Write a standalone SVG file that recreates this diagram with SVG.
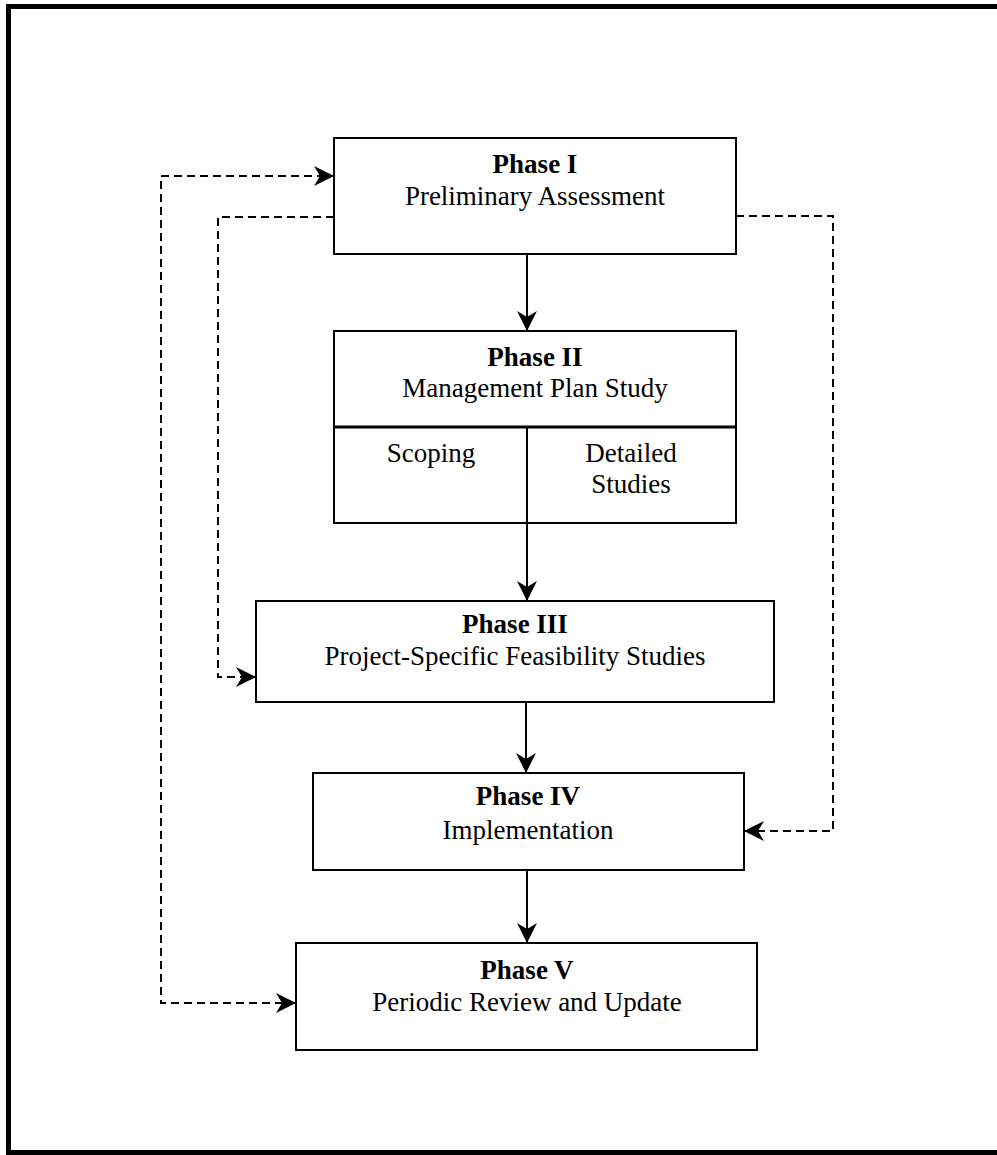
<svg xmlns="http://www.w3.org/2000/svg" width="997" height="1155" viewBox="0 0 997 1155">
  <style>
    .box { fill: #fff; stroke: #000; stroke-width: 2; }
    .t { font-family: "Liberation Serif", "Times New Roman", serif; font-size: 27px; fill: #000; text-anchor: middle; }
    .b { font-weight: bold; }
    .solid { fill: none; stroke: #000; stroke-width: 2; marker-end: url(#arr); }
    .dash { fill: none; stroke: #000; stroke-width: 2; stroke-dasharray: 8 5; }
  </style>
  <defs>
    <marker id="arr" markerUnits="userSpaceOnUse" markerWidth="24" markerHeight="24" viewBox="-22 -12 24 24" refX="0" refY="0" orient="auto-start-reverse">
      <path d="M0,0 L-20,-10 L-14,0 L-20,10 Z" fill="#000"/>
    </marker>
  </defs>
  <rect x="8.5" y="6.5" width="995" height="1146" fill="#fff" stroke="#000" stroke-width="5"/>

  <g id="phase1">
    <rect class="box" x="334" y="138" width="402" height="116"/>
    <text class="t b" x="535" y="173">Phase I</text>
    <text class="t" x="535" y="205">Preliminary Assessment</text>
  </g>
  <g id="phase2">
    <rect class="box" x="334" y="331" width="402" height="192"/>
    <line x1="334" y1="427" x2="736" y2="427" stroke="#000" stroke-width="3"/>
    <line x1="527" y1="427" x2="527" y2="523" stroke="#000" stroke-width="2"/>
    <text class="t b" x="535" y="366">Phase II</text>
    <text class="t" x="535" y="397">Management Plan Study</text>
    <text class="t" x="431" y="462">Scoping</text>
    <text class="t" x="631" y="462">Detailed</text>
    <text class="t" x="631" y="493">Studies</text>
  </g>
  <g id="phase3">
    <rect class="box" x="256" y="601" width="518" height="101"/>
    <text class="t b" x="515" y="633">Phase III</text>
    <text class="t" x="515" y="665">Project-Specific Feasibility Studies</text>
  </g>
  <g id="phase4">
    <rect class="box" x="313" y="773" width="431" height="97"/>
    <text class="t b" x="528" y="805">Phase IV</text>
    <text class="t" x="528" y="839">Implementation</text>
  </g>
  <g id="phase5">
    <rect class="box" x="296" y="943" width="461" height="107"/>
    <text class="t b" x="527" y="979">Phase V</text>
    <text class="t" x="527" y="1011">Periodic Review and Update</text>
  </g>

  <g id="connectors">
    <path class="solid" d="M527,254 V331"/>
    <path class="solid" d="M527,523 V601"/>
    <path class="solid" d="M526,702 V773"/>
    <path class="solid" d="M527,870 V943"/>
    <path class="dash" d="M296,1003 H161 V176 H334" marker-start="url(#arr)" marker-end="url(#arr)"/>
    <path class="dash" d="M334,217 H218 V677 H256" marker-end="url(#arr)"/>
    <path class="dash" d="M736,216 H833 V831 H744" marker-end="url(#arr)"/>
  </g>
</svg>
